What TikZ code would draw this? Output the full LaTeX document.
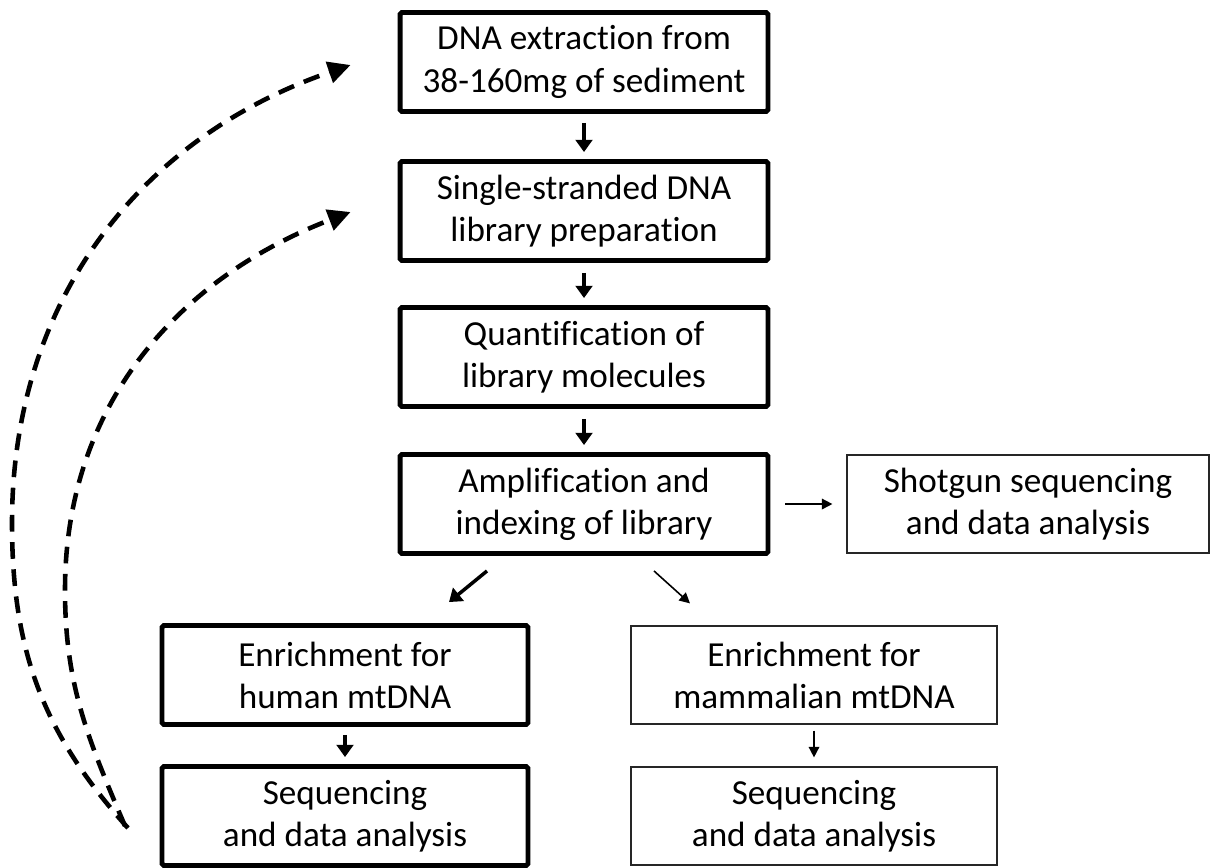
\documentclass[tikz,border=0pt]{standalone}
\usepackage{fontspec}
\setmainfont{Carlito}[Ligatures=NoCommon]
\usetikzlibrary{arrows.meta,calc}
\begin{document}
\begin{tikzpicture}[x=0.02cm,y=-0.02cm,
  thickbox/.style={draw=black,line width=2.8pt,rounded corners=1pt,align=center,inner sep=0pt,
    minimum width=7.36cm,minimum height=1.98cm,font=\fontsize{20}{24}\selectfont},
  thinbox/.style={draw=black!85,line width=0.7pt,align=center,inner sep=0pt,
    minimum width=7.3cm,minimum height=1.96cm,font=\fontsize{20}{24}\selectfont},
  thickarr/.style={-{Triangle[length=7pt,width=9.5pt]},line width=2pt},
  thinarr/.style={-{Triangle[length=6pt,width=6pt]},line width=0.9pt},
  loop/.style={-{Triangle[length=0.45cm,width=0.43cm]},line width=2.6pt,dash pattern=on 9.5pt off 6pt}
]
\useasboundingbox (0,0) rectangle (1212,867);

\node[thickbox] (b1) at (584,62) {DNA extraction from\\38-160mg of sediment};
\node[thickbox] (b2) at (584,211) {Single-stranded DNA\\library preparation};
\node[thickbox] (b3) at (584,357) {Quantification of\\library molecules};
\node[thickbox] (b4) at (584,504) {Amplification and\\indexing of library};
\node[thinbox,minimum width=7.24cm] (sg) at (1028,504) {Shotgun sequencing\\and data analysis};
\node[thickbox,minimum width=7.32cm] (eh) at (345,675) {Enrichment for\\human mtDNA};
\node[thickbox,minimum width=7.32cm] (sl) at (345,816) {Sequencing\\and data analysis};
\node[thinbox,minimum width=7.32cm] (em) at (814,675) {Enrichment for\\mammalian mtDNA};
\node[thinbox,minimum width=7.32cm] (sr) at (814,816) {Sequencing\\and data analysis};

\draw[thickarr] ($(b1.south)+(0,9)$) -- ($(b2.north)+(0,-7)$);
\draw[thickarr] ($(b2.south)+(0,10)$) -- ($(b3.north)+(0,-7)$);
\draw[thickarr] ($(b3.south)+(0,10)$) -- ($(b4.north)+(0,-7)$);
\draw[thickarr] ($(eh.south)+(0,8)$) -- ($(sl.north)+(0,-7)$);
\draw[thinarr] ($(em.south)+(0,6)$) -- ($(sr.north)+(0,-9)$);
\draw[thinarr] ($(b4.east)+(15,0)$) -- ($(sg.west)+(-14,0)$);
\draw[thickarr] ($(b4.south)+(-97,15)$) -- ($(eh.north)+(104,-21)$);
\draw[thinarr] ($(b4.south)+(70,15)$) -- ($(em.north)+(-124,-22)$);

\coordinate (o0) at (128,828);
\coordinate (o1) at (12,523);
\coordinate (i0) at (125,826);
\coordinate (i1) at (65,590);
\draw[loop] (o0) to[out=132,in=-90] (o1) to[out=90,in=199] ($(b1.west)+(-47,3)$);
\draw[loop] (i0) to[out=113,in=-90] (i1) to[out=90,in=201] ($(b2.west)+(-47,1)$);
\end{tikzpicture}
\end{document}
